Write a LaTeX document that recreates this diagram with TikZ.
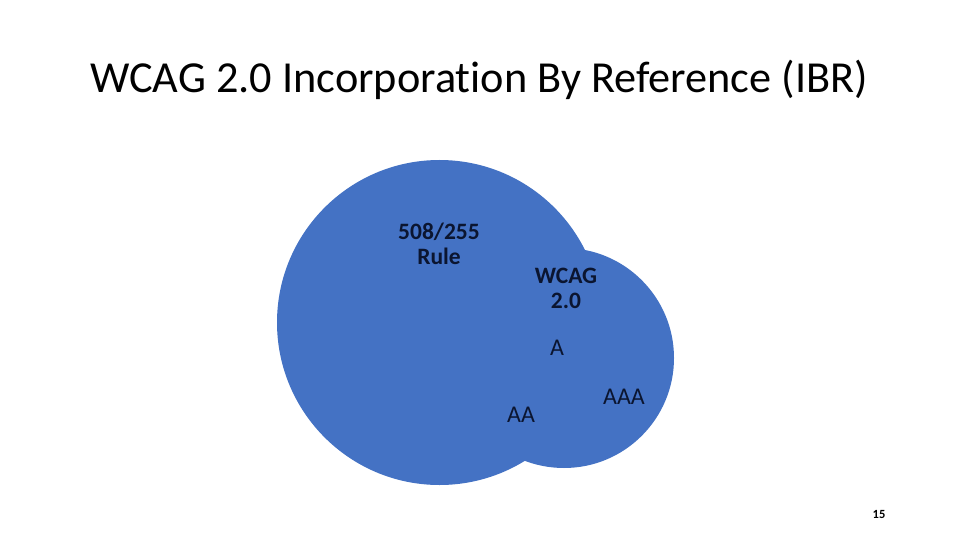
\documentclass[tikz,border=0pt]{standalone}
\usepackage{fontspec}
\setmainfont[Ligatures=NoCommon]{Carlito}
\definecolor{venn}{HTML}{4472C4}
\definecolor{ink}{HTML}{0B1530}
\begin{document}
\begin{tikzpicture}[x=1pt,y=-1pt,
  lbl/.style={text=ink,font=\fontsize{24}{25}\selectfont,align=center,inner sep=0pt},
  blbl/.style={lbl,font=\fontsize{23.5}{25}\selectfont\bfseries}]
\useasboundingbox (0,0) rectangle (960,540);
\fill[white] (0,0) rectangle (960,540);
\node[inner sep=0pt,font=\fontsize{44.3}{50}\selectfont] (title) at (479,80) {WCAG 2.0 Incorporation By Reference (IBR)};
\fill[venn] (439.5,322.5) circle[radius=162.5];
\fill[venn] (564,358) circle[radius=110];
\node[blbl] (rule) at (439,243.5) {508/255\\Rule};
\node[blbl] (wcag) at (566,288.5) {WCAG\\2.0};
\node[lbl] (a) at (557,348) {A};
\node[lbl] (aa) at (521,415) {AA};
\node[lbl] (aaa) at (624,397) {AAA};
\node[inner sep=0pt,font=\fontsize{12.5}{14}\selectfont\bfseries] (pg) at (879,514) {15};
\end{tikzpicture}
\end{document}
